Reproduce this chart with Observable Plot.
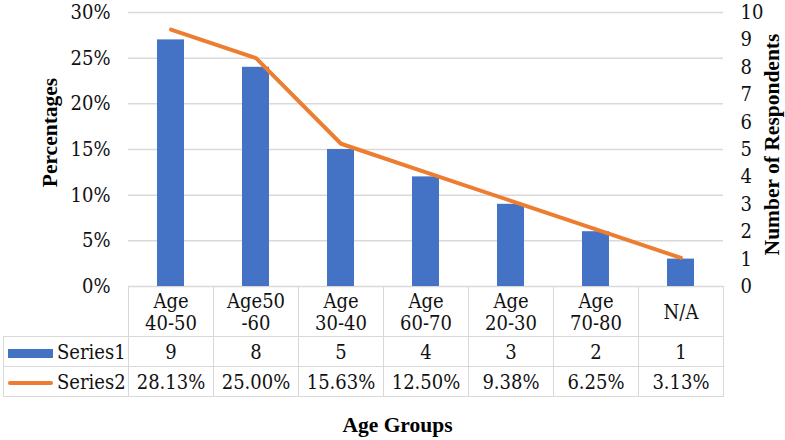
<!DOCTYPE html>
<html><head><meta charset="utf-8">
<script src="https://cdn.jsdelivr.net/npm/d3@7"></script>
<script src="https://cdn.jsdelivr.net/npm/@observablehq/plot@0.6"></script>
<style>
html,body{margin:0;padding:0;background:#fff;}
#wrap{position:relative;width:785px;height:440px;font-family:"DejaVu Serif Condensed","DejaVu Serif";font-stretch:condensed;color:#111;}
#wrap svg{font-family:"DejaVu Serif Condensed","DejaVu Serif";font-stretch:condensed;}
#tbl{position:absolute;left:3px;top:286px;border-collapse:collapse;font-size:20px;table-layout:fixed;}
#tbl td{border:1.5px solid #d9d9d9;text-align:center;padding:0;line-height:22px;}
#tbl td.blank{border:none;}
#tbl td.leg{text-align:left;white-space:nowrap;}
.sw{display:inline-block;width:45px;margin:0 4px 0 4px;vertical-align:middle;}
#xt{position:absolute;left:0;width:795px;top:413px;text-align:center;font-weight:bold;font-size:21.5px;font-family:"Liberation Serif";font-stretch:normal;color:#000;}
</style></head>
<body><div id="wrap"></div>
<script>
const categories = ["Age 40-50","Age50 -60","Age 30-40","Age 60-70","Age 20-30","Age 70-80","N/A"];
const headerLines = [["Age","40-50"],["Age50","-60"],["Age","30-40"],["Age","60-70"],["Age","20-30"],["Age","70-80"],["N/A"]];
const series1 = [9,8,5,4,3,2,1];
const series2 = [28.13,25.00,15.63,12.50,9.38,6.25,3.13];
const series2Labels = ["28.13%","25.00%","15.63%","12.50%","9.38%","6.25%","3.13%"];
const leftTicks = [0,5,10,15,20,25,30];
const rightTicks = [0,1,2,3,4,5,6,7,8,9,10];
const seriesNames = ["Series1","Series2"];

const REG = "DejaVu Serif Condensed, DejaVu Serif";
const data = categories.map((c,i)=>({cat:c, count:series1[i], pct:series2[i]}));

const chart = Plot.plot({
  width:785, height:440,
  marginLeft:128, marginRight:62, marginTop:12, marginBottom:154,
  x:{domain:categories, padding:0, axis:null},
  y:{domain:[0,30]},
  style:{"font-family":REG, "font-size":"20px", "color":"#111", "background":"#fff", "font-stretch":"condensed"},
  marks:[
    Plot.gridY(leftTicks, {stroke:"#d9d9d9", strokeOpacity:1, strokeWidth:1.5}),
    Plot.axisY(leftTicks, {anchor:"left", tickSize:0, tickPadding:18, tickFormat:d=>d+"%", label:null, fontSize:20, fontFamily:REG}),
    Plot.axisY(rightTicks.map(d=>d*3), {anchor:"right", tickSize:0, tickPadding:17, tickFormat:d=>String(Math.round(d/3)), label:null, fontSize:20, fontFamily:REG}),
    Plot.barY(data, {x:"cat", y:d=>d.count*3, fill:"#4472C4", insetLeft:29, insetRight:29}),
    Plot.line(data, {x:"cat", y:"pct", stroke:"#ED7D31", strokeWidth:4, strokeLinecap:"round", strokeLinejoin:"round"}),
    Plot.text(["Percentages"], {frameAnchor:"left", textAnchor:"middle", dx:-78, dy:-17, rotate:-90, fontWeight:"bold", fontSize:21.5, fill:"#000", fontFamily:"Liberation Serif"}),
    Plot.text(["Number of Respondents"], {frameAnchor:"right", textAnchor:"middle", dx:49, dy:-5, rotate:-90, fontWeight:"bold", fontSize:21.5, fill:"#000", fontFamily:"Liberation Serif"})
  ]
});
const wrap = document.getElementById("wrap");
wrap.appendChild(chart);

// data table below the plot
const tbl = document.createElement("table");
tbl.id = "tbl";
const cg = document.createElement("colgroup");
[125, ...categories.map(()=>85)].forEach(w=>{const c=document.createElement("col"); c.style.width=w+"px"; cg.appendChild(c);});
tbl.appendChild(cg);
const hr = tbl.insertRow(); hr.style.height="50px";
const b = hr.insertCell(); b.className="blank";
headerLines.forEach(l=>{const c=hr.insertCell(); c.innerHTML=l.join("<br>");});
const rows = [
  {name:seriesNames[0], vals:series1.map(String), sw:'<span class="sw" style="height:9px;background:#4472C4"></span>'},
  {name:seriesNames[1], vals:series2Labels, sw:'<span class="sw" style="height:4px;border-radius:2px;background:#ED7D31"></span>'}
];
rows.forEach(r=>{
  const tr = tbl.insertRow(); tr.style.height="30px";
  const l = tr.insertCell(); l.className="leg"; l.innerHTML = r.sw + r.name;
  r.vals.forEach(v=>{const c=tr.insertCell(); c.textContent=v;});
});
wrap.appendChild(tbl);
const xt = document.createElement("div"); xt.id="xt"; xt.textContent="Age Groups";
wrap.appendChild(xt);
chart.style.position="absolute"; chart.style.left="0"; chart.style.top="0";
</script></body></html>
